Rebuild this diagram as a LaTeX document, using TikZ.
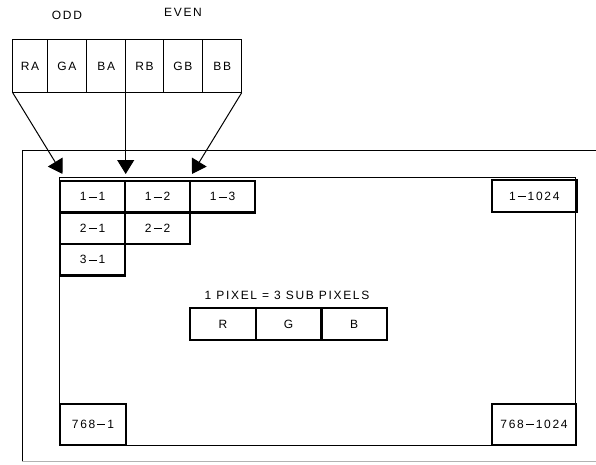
\documentclass[tikz,border=0pt]{standalone}
\usepackage{fontspec}
\setmainfont[LetterSpace=14]{Liberation Sans}
\usetikzlibrary{arrows.meta}

% wide minus sign between row and column numbers
\newcommand{\dsh}{\kern2pt\rule[3.5pt]{8pt}{0.8pt}\kern2pt}

\begin{document}
\begin{tikzpicture}[x=1pt,y=-1pt,
  every node/.style={font=\fontsize{12}{14}\selectfont, inner sep=0pt, outer sep=0pt},
  chan/.style={draw, line width=0.8pt, minimum height=53.4pt, anchor=north west},
  cellbox/.style={draw, line width=2.2pt, minimum width=65pt, minimum height=31.5pt, anchor=north west},
  feed/.style={line width=1pt, -{Triangle[length=14pt,width=17pt]}}
]
\useasboundingbox (0,0) rectangle (596,464);

% outer panel frame
\draw[line width=0.9pt] (596,150) -- (22,150) -- (22,461);
\draw[line width=1pt, black!30] (22,461) -- (596,461);

% display area
\draw[line width=1pt] (59,177) rectangle (575,445);

% channel registers
\node[chan, minimum width=34.6pt] (ra) at (12.7,39.3) {RA};
\node[chan, minimum width=39.4pt] (ga) at (47.3,39.3) {GA};
\node[chan, minimum width=39pt]   (ba) at (86.7,39.3) {BA};
\node[chan, minimum width=37.6pt] (rb) at (125.7,39.3) {RB};
\node[chan, minimum width=39.4pt] (gb) at (163.3,39.3) {GB};
\node[chan, minimum width=39pt]   (bb) at (202.7,39.3) {BB};
\node (odd)  at (67,15) {ODD};
\node (even) at (183,12) {EVEN};

% pixel grid
\node[cellbox] (c11) at (60,181)  {1\dsh1};
\node[cellbox] (c12) at (125,181) {1\dsh2};
\node[cellbox] (c13) at (190,181) {1\dsh3};
\node[cellbox] (c21) at (60,212.5)  {2\dsh1};
\node[cellbox] (c22) at (125,212.5) {2\dsh2};
\node[cellbox] (c31) at (60,244)  {3\dsh1};
\node[cellbox, minimum width=84.5pt, minimum height=32pt] (c1k) at (492,180) {1\dsh1024};
\node[cellbox, minimum width=66pt, minimum height=41pt] (c7a) at (60,404) {768\dsh1};
\node[cellbox, minimum width=84pt, minimum height=41pt] (c7k) at (492,404) {768\dsh1024};

% sub pixels
\node (lbl) at (287,295) {1 PIXEL = 3 SUB PIXELS};
\node[cellbox, minimum width=65.7pt, minimum height=32pt] (sr) at (190,308) {R};
\node[cellbox, minimum width=65.7pt, minimum height=32pt] (sg) at (255.7,308) {G};
\node[cellbox, minimum width=65.3pt, minimum height=32pt] (sb) at (321.4,308) {B};

% feed arrows
\coordinate (t1) at (62.5,174);
\coordinate (t2) at (125.7,174);
\coordinate (t3) at (192,174);
\draw[feed] (ra.south west) -- (t1);
\draw[feed] (rb.south west) -- (t2);
\draw[feed] (bb.south east) -- (t3);
\end{tikzpicture}
\end{document}
